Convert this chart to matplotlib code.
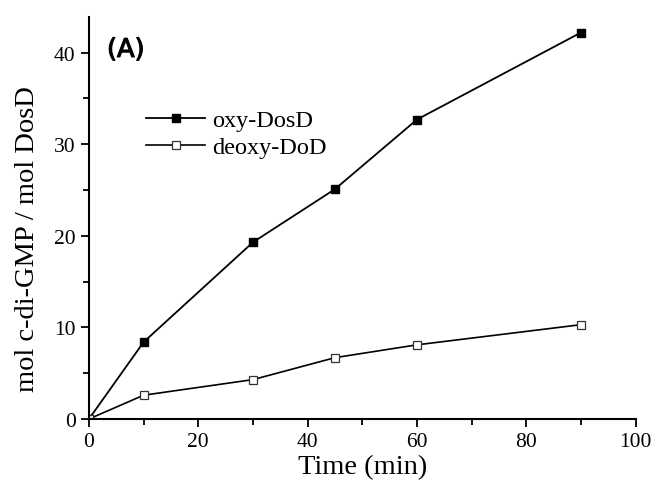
import matplotlib.pyplot as plt
import matplotlib.patheffects as pe
from matplotlib.ticker import MultipleLocator

# datos
tiempo = [0, 10, 30, 45, 60, 90]
oxy = [0, 8.4, 19.3, 25.1, 32.7, 42.2]
deoxy = [0, 2.6, 4.3, 6.7, 8.1, 10.3]

plt.rcParams['font.family'] = ['Liberation Serif', 'DejaVu Serif']

fig = plt.figure(figsize=(6.54, 4.85), dpi=100)
ax = fig.add_axes([0.136, 0.134, 0.836, 0.829])

ax.plot(tiempo, oxy, color='black', lw=1.3, marker='s', ms=5.8,
        mfc='black', mec='black', label='oxy-DosD')
ax.plot(tiempo, deoxy, color='black', lw=1.2, marker='s', ms=5.8,
        mfc='white', mec='#333333', mew=0.9, label='deoxy-DoD')

ax.set_xlim(0, 100)
ax.set_ylim(0, 43.9)
ax.xaxis.set_major_locator(MultipleLocator(20))
ax.xaxis.set_minor_locator(MultipleLocator(10))
ax.yaxis.set_major_locator(MultipleLocator(10))
ax.yaxis.set_minor_locator(MultipleLocator(5))
ax.tick_params(which='both', direction='out', width=1.3, labelsize=15.5)
ax.tick_params(which='major', length=6)
ax.tick_params(which='minor', length=4)
for s in ['top', 'right']:
    ax.spines[s].set_visible(False)
for s in ['left', 'bottom']:
    ax.spines[s].set_linewidth(1.5)

ax.set_xlabel('Time (min)', fontsize=20.5, labelpad=2)
ax.set_ylabel('mol c-di-GMP / mol DosD', fontsize=20.5)
ax.yaxis.set_label_coords(-0.09, 0.45)

t = ax.text(3.3, 40.3, '(A)', fontsize=18.5, va='center',
            family=['DejaVu Sans'])
t.set_path_effects([pe.withStroke(linewidth=0.8, foreground='black')])

ax.legend(loc='upper left', bbox_to_anchor=(0.065, 0.825), frameon=False,
          fontsize=17.5, handlelength=2.4, handletextpad=0.3, labelspacing=0.2,
          markerscale=1.05)

fig.savefig('out.png', dpi=100, facecolor='white')
